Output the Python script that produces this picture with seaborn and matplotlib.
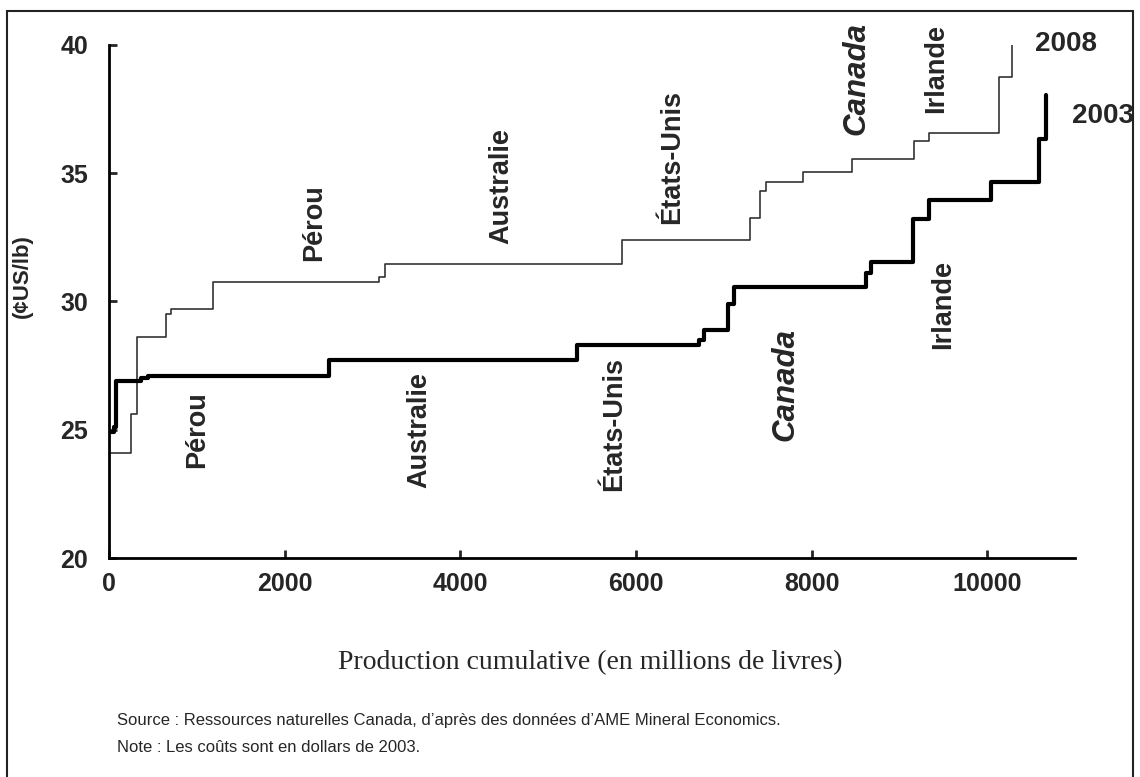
import matplotlib
matplotlib.use("Agg")
import matplotlib.pyplot as plt
import seaborn as sns
import pandas as pd
from matplotlib.patches import Rectangle

# cost curve 2008 (thin line) - step starts
x_2008 = [0, 248, 324, 648, 705, 1181, 3074, 3143, 5847, 7303, 7410, 7486, 7897, 8457, 9162, 9341, 10133, 10278]
y_2008 = [24.1, 25.6, 28.6, 29.5, 29.7, 30.75, 30.95, 31.45, 32.4, 33.25, 34.3, 34.65, 35.05, 35.55, 36.25, 36.55, 38.75, 40.2]

# cost curve 2003 (thick line)
x_2003 = [0, 60, 80, 360, 440, 2506, 5333, 6720, 6781, 7050, 7118, 8620, 8678, 9151, 9341, 10049, 10590, 10674]
y_2003 = [24.9, 25.1, 26.9, 27.0, 27.1, 27.7, 28.3, 28.5, 28.9, 29.9, 30.55, 31.1, 31.55, 33.2, 33.95, 34.65, 36.35, 38.05]

# country labels
labels_2008 = ["Pérou", "Australie", "États-Unis", "Canada", "Irlande"]
labx_2008 = [2331, 4469, 6411, 8514, 9417]
laby_2008 = [33.06, 34.5, 35.63, 38.71, 39.1]

labels_2003 = ["Pérou", "Australie", "États-Unis", "Canada", "Irlande"]
labx_2003 = [1006, 3531, 5749, 7703, 9497]
laby_2003 = [24.99, 24.99, 25.22, 26.78, 29.9]

sns.set_style("ticks")
plt.rcParams['font.family'] = ['Liberation Sans', 'DejaVu Sans']

df08 = pd.DataFrame({'prod': x_2008, 'cost': y_2008})
df03 = pd.DataFrame({'prod': x_2003, 'cost': y_2003})

fig = plt.figure(figsize=(11.4, 7.77), dpi=100)
ax = fig.add_axes([109/1140, 1 - 558/777, (1075-109)/1140, (558-45)/777])

sns.lineplot(data=df08, x='prod', y='cost', drawstyle='steps-post', color='#333333',
             linewidth=1.2, estimator=None, sort=False, ax=ax)
sns.lineplot(data=df03, x='prod', y='cost', drawstyle='steps-post', color='black',
             linewidth=3.0, estimator=None, sort=False, ax=ax)

ax.set_xlim(0, 11000)
ax.set_ylim(20, 40)
ax.set_xticks([0, 2000, 4000, 6000, 8000, 10000])
ax.set_yticks([20, 25, 30, 35, 40])
for s in ['top', 'right']:
    ax.spines[s].set_visible(False)
for s in ['left', 'bottom']:
    ax.spines[s].set_linewidth(2)
    ax.spines[s].set_color('black')
ax.tick_params(axis='both', direction='in', length=6, width=2, labelsize=18)
ax.tick_params(axis='x', pad=10)
ax.tick_params(axis='y', pad=15)
for t in ax.get_xticklabels() + ax.get_yticklabels():
    t.set_fontweight('bold')

ax.set_xlabel("")
ax.set_ylabel("(¢US/lb)", fontsize=16, fontweight='bold')
ax.yaxis.set_label_coords(-0.079, 0.55)

def country_labels(names, xs, ys):
    for lab, lx, ly in zip(names, xs, ys):
        italic = lab == "Canada"
        ax.text(lx, ly, lab, rotation=90, ha='center', va='center',
                fontsize=22.5 if italic else 19.5, fontweight='bold',
                fontstyle='italic' if italic else 'normal')

country_labels(labels_2008, labx_2008, laby_2008)
country_labels(labels_2003, labx_2003, laby_2003)

ax.text(10549, 40.04, "2008", ha='left', va='center', fontsize=20, fontweight='bold', clip_on=False)
ax.text(10971, 37.23, "2003", ha='left', va='center', fontsize=20, fontweight='bold', clip_on=False)

fig.text(590/1140, 1 - 663/777, "Production cumulative (en millions de livres)",
         ha='center', va='center', fontsize=20, family='Liberation Serif')
fig.text(117/1140, 1 - 720/777,
         "Source : Ressources naturelles Canada, d\u2019après des données d\u2019AME Mineral Economics.",
         ha='left', va='center', fontsize=12)
fig.text(117/1140, 1 - 747/777, "Note : Les coûts sont en dollars de 2003.",
         ha='left', va='center', fontsize=12)

fig.patches.append(Rectangle((7/1140, -0.01), (1133-7)/1140, 1.01 - 11/777,
                             transform=fig.transFigure, fill=False, edgecolor='#222222', linewidth=1.5))

fig.savefig("out.png", dpi=100)
